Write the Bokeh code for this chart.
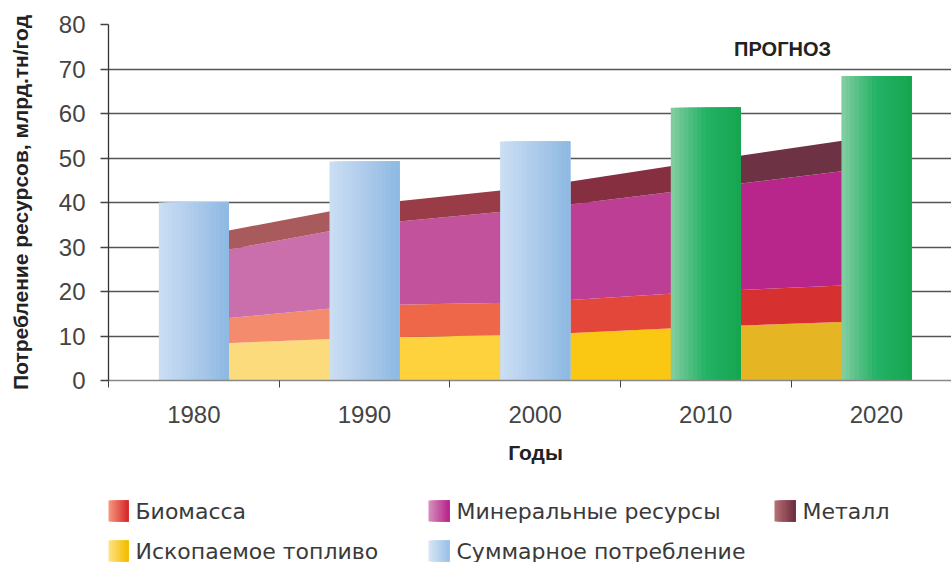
from bokeh.plotting import figure
from bokeh.models import Range1d, FixedTicker, ColumnDataSource, Label
from bokeh.layouts import column
from bokeh.transform import dodge
from bokeh.embed import file_html
from bokeh.resources import INLINE

# ---------------- data ----------------
years = [1980, 1990, 2000, 2010, 2020]
total = [40.0, 49.2, 53.7, 61.3, 68.4]          # Суммарное потребление
forecast = [False, False, False, True, True]
fossil = [8.1, 9.6, 10.3, 12.1, 13.4]           # Ископаемое топливо
biomass = [5.2, 7.3, 7.3, 7.9, 8.3]             # Биомасса
minerals = [14.7, 18.1, 21.0, 23.3, 26.3]       # Минеральные ресурсы
metals = [4.2, 4.5, 4.9, 6.1, 7.0]              # Металл
y_ticks = [0, 10, 20, 30, 40, 50, 60, 70, 80]
x_labels = ["1980", "1990", "2000", "2010", "2020"]
legend_labels = ["Биомасса", "Минеральные ресурсы", "Металл",
                 "Ископаемое топливо", "Суммарное потребление"]

# ---------------- style ----------------
FONT = "Liberation Sans"
LFONT = "DejaVu Sans"
seg_colors = {
    "fossil": ["#fbdb7b", "#fdd23c", "#fac712", "#e6b524"],
    "biomass": ["#f38b6c", "#ef6749", "#e3473a", "#d63030"],
    "minerals": ["#ca6eac", "#c3529d", "#bd3f95", "#b8268c"],
    "metals": ["#a95a5d", "#9a3c48", "#852f40", "#6e3245"],
}
blue_stops = ["#cadef3", "#aecbeb", "#8fbae3"]
green_stops = ["#7fcc9e", "#23b266", "#17a650"]


def hex2rgb(h):
    h = h.lstrip("#")
    return tuple(int(h[i:i + 2], 16) for i in (0, 2, 4))


def rgb2hex(c):
    return "#%02x%02x%02x" % tuple(int(round(v)) for v in c)


def grad(stops, t):
    n = len(stops) - 1
    k = min(int(t * n), n - 1)
    lt = t * n - k
    a, b = hex2rgb(stops[k]), hex2rgb(stops[k + 1])
    return rgb2hex([a[i] + (b[i] - a[i]) * lt for i in range(3)])


W = 951
CH = 430
LEFT = 108
p = figure(width=W, height=CH, output_backend="svg", toolbar_location=None,
           x_range=Range1d(1975, 2024.4), y_range=Range1d(0, 80),
           min_border_left=LEFT, min_border_right=0, min_border_top=24,
           min_border_bottom=CH - 380)
p.outline_line_color = None
p.background_fill_color = "white"
p.border_fill_color = "white"

# stacked areas, drawn segment by segment between the years
layers = [("fossil", fossil), ("biomass", biomass), ("minerals", minerals), ("metals", metals)]
base = [0.0] * len(years)
for name, vals in layers:
    top = [b + v for b, v in zip(base, vals)]
    for k in range(len(years) - 1):
        p.varea(x=years[k:k + 2], y1=base[k:k + 2], y2=top[k:k + 2],
                fill_color=seg_colors[name][k], fill_alpha=1.0)
    base = top

# bars with horizontal gradient (overlapping strips, each reaching the right edge)
bar_w = 4.1
N = 16
hist = ColumnDataSource(dict(year=[y for y, f in zip(years, forecast) if not f],
                             top=[t for t, f in zip(total, forecast) if not f]))
prog = ColumnDataSource(dict(year=[y for y, f in zip(years, forecast) if f],
                             top=[t for t, f in zip(total, forecast) if f]))
sw = bar_w / N
for i in range(N):
    left = -bar_w / 2 + i * sw
    right = bar_w / 2
    off = (left + right) / 2
    w = right - left
    t = i / (N - 1)
    p.vbar(x=dodge("year", off, range=p.x_range), top="top", bottom=0, width=w,
           source=hist, fill_color=grad(blue_stops, t), line_color=None)
    p.vbar(x=dodge("year", off, range=p.x_range), top="top", bottom=0, width=w,
           source=prog, fill_color=grad(green_stops, t), line_color=None)

# axes
xa = p.xaxis[0]
xa.ticker = FixedTicker(ticks=years, minor_ticks=[y - 5 for y in years])
xa.major_label_overrides = {y: s for y, s in zip(years, x_labels)}
xa.major_tick_out = 0
xa.major_tick_in = 0
xa.minor_tick_out = 7
xa.minor_tick_in = 0
xa.minor_tick_line_color = "#444444"
xa.axis_line_color = "#888888"
xa.axis_line_width = 1.3
xa.major_label_standoff = 18
xa.major_label_text_font = FONT
xa.major_label_text_font_size = "24px"
xa.major_label_text_color = "#444444"

ya = p.yaxis[0]
ya.ticker = FixedTicker(ticks=y_ticks)
ya.major_tick_out = 8
ya.major_tick_in = 0
ya.minor_tick_out = 0
ya.minor_tick_in = 0
ya.major_tick_line_color = "#444444"
ya.major_tick_line_width = 1.3
ya.axis_line_color = "#333333"
ya.axis_line_width = 1.3
ya.major_label_standoff = 15
ya.major_label_text_font = FONT
ya.major_label_text_font_size = "24px"
ya.major_label_text_color = "#444444"
ya.axis_label = "Потребление ресурсов, млрд.тн/год"
ya.axis_label_text_font = FONT
ya.axis_label_text_font_style = "bold"
ya.axis_label_text_font_size = "21px"
ya.axis_label_text_color = "#222222"
ya.axis_label_standoff = 24

p.xgrid.grid_line_color = None
p.ygrid.ticker = FixedTicker(ticks=y_ticks)
p.ygrid.grid_line_color = "#555555"
p.ygrid.grid_line_width = 1.3

p.add_layout(Label(x=2014.5, y=74.5, text="ПРОГНОЗ", text_align="center",
                   text_baseline="middle", text_font=FONT, text_font_style="bold",
                   text_font_size="20px", text_color="#222222"))

# ---------------- x-axis title and legend (separate strip) ----------------
# the column layout aligns this strip's frame with the chart frame (x from LEFT to W)
LH = 562 - CH
lg = figure(width=W, height=LH, output_backend="svg", toolbar_location=None,
            x_range=Range1d(LEFT, W), y_range=Range1d(LH, 0),
            min_border=0, min_border_left=LEFT, x_axis_type=None, y_axis_type=None)
lg.outline_line_color = None
lg.grid.visible = False

lg.add_layout(Label(x=535, y=22, text="Годы", text_align="center",
                    text_baseline="middle", text_font=FONT, text_font_style="bold",
                    text_font_size="21px", text_color="#222222"))

swatch_stops = [
    ["#f59a82", "#d62b2b"],
    ["#d58bbb", "#b8268c"],
    ["#b46e73", "#6e2f42"],
    ["#fde38a", "#f3bd00"],
    ["#d4e4f5", "#9bc2e8"],
]
slots = [(107, 80.5), (428, 80.5), (774, 80.5), (107, 120.5), (428, 120.5)]
SW, SH, M = 21, 21, 10
for (x0, yc), stops, label in zip(slots, swatch_stops, legend_labels):
    for i in range(M):
        lg.quad(left=x0 + i * SW / M, right=x0 + SW,
                top=yc - SH / 2, bottom=yc + SH / 2,
                fill_color=grad(stops, i / (M - 1)), line_color=None)
    lg.add_layout(Label(x=x0 + 28, y=yc, text=label, text_align="left",
                        text_baseline="middle", text_font=LFONT,
                        text_font_size="22px", text_color="#3a3a3a"))

layout = column(p, lg, spacing=0)
open("out.html", "w").write(file_html(layout, INLINE))
